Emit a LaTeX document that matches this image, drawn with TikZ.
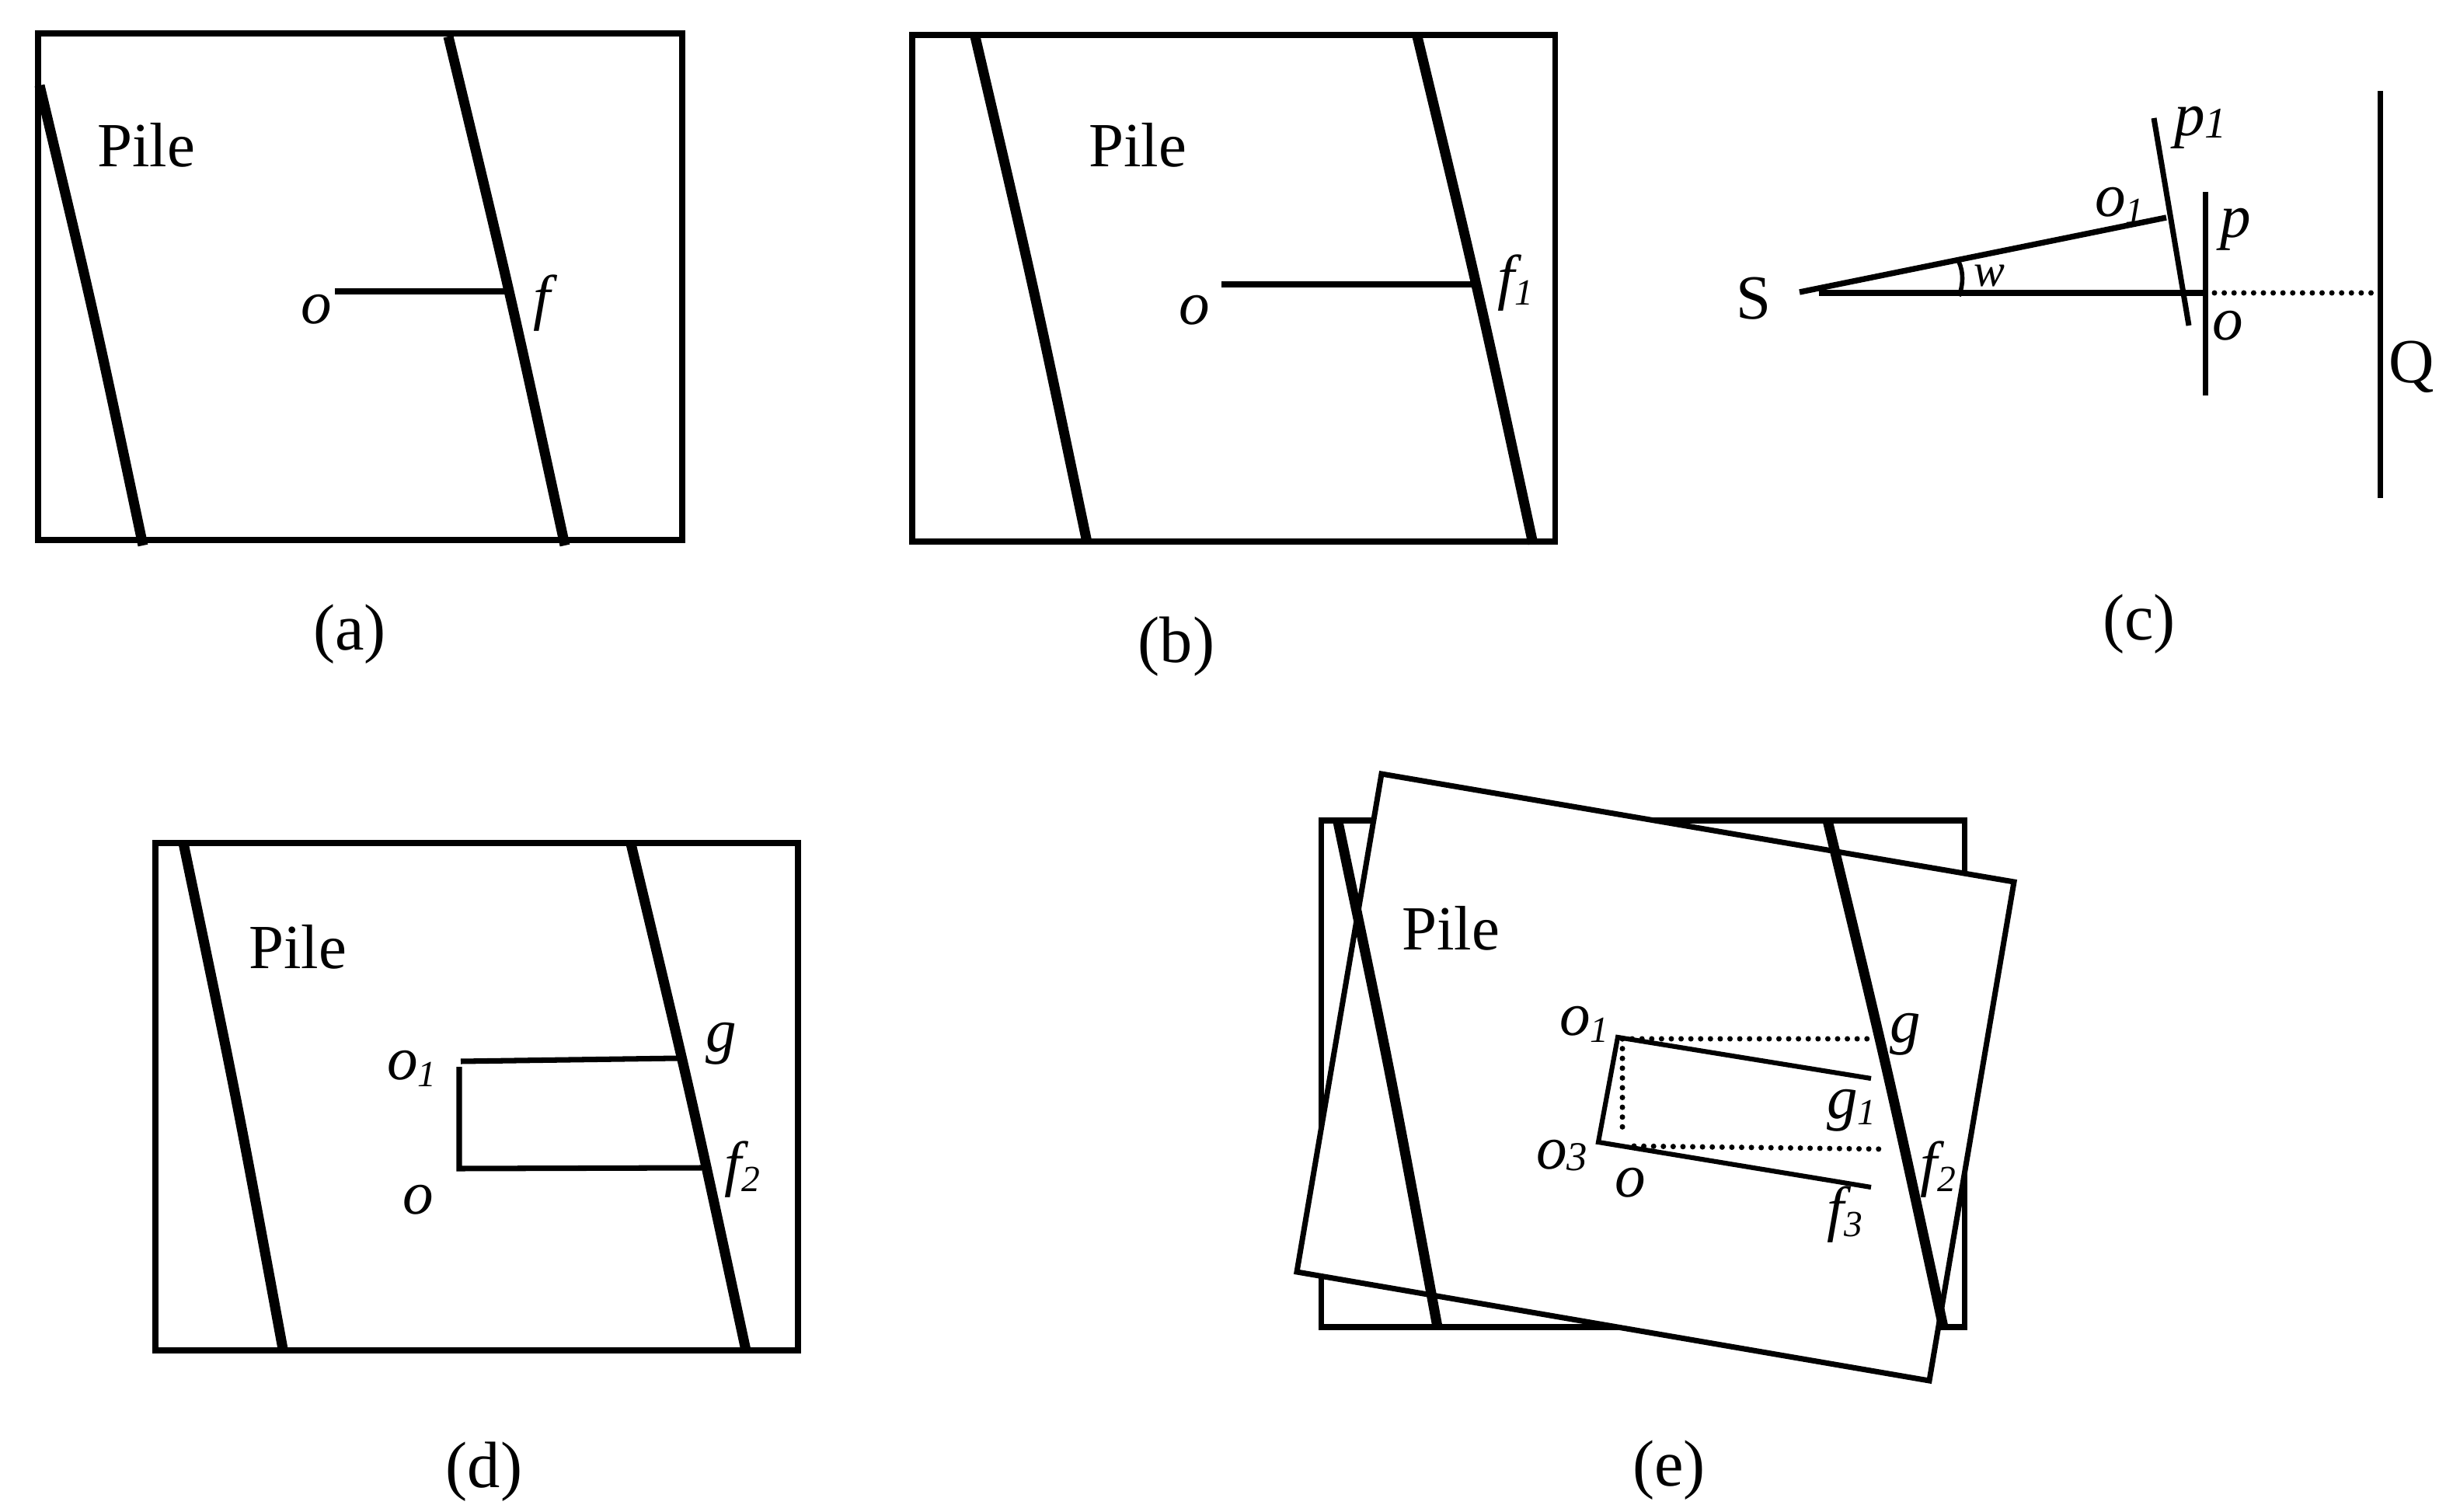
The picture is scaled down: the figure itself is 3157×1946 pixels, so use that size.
\documentclass[tikz,border=0pt]{standalone}
\usepackage{fontspec}
\setmainfont{Liberation Serif}
\usetikzlibrary{calc}
\newcommand{\pilesize}{\fontsize{23}{26}\selectfont}
\newcommand{\capsize}{\fontsize{24}{27}\selectfont}
\newcommand{\labsize}{\fontsize{22.5}{25}\selectfont\itshape}
\newcommand{\subl}[2]{#1\raisebox{-2.5pt}{\fontsize{13.5}{15}\selectfont #2}}
\newcommand{\thickcurve}[2]{\draw[thickln] (#1) .. controls ($(#1)!.5!(#2)+(4,0)$) .. (#2);}
\tikzset{
  x=0.01cm,y=-0.01cm,
  thinln/.style={line width=2pt,black},
  thickln/.style={line width=3.7pt,black},
  dotln/.style={line width=2pt,line cap=round,dash pattern=on 0pt off 3.58pt,black},
  pile/.style={inner sep=0pt,font=\pilesize},
  capt/.style={inner sep=0pt,font=\capsize},
  lab/.style={inner sep=0pt,font=\labsize},
  upper/.style={inner sep=0pt,font=\pilesize}
}
\begin{document}
\begin{tikzpicture}
\useasboundingbox (0,0) rectangle (3157,1946);
% (a)
\draw[thinln] (49,43) rectangle (878,695);
\thickcurve{51,110}{184,702}
\thickcurve{577,47}{727,702}
\draw[thinln] (431,375) -- (652,375);
\node[pile] (pa) at (188,187) {Pile};
\node[lab] (oa) at (407,398) {o};
\node[lab] (fa) at (697,390) {f};
\node[capt] (ca) at (450,816) {(a)};
% (b)
\draw[thinln] (1174,45) rectangle (2001,697);
\thickcurve{1255,47}{1399,698}
\thickcurve{1824,47}{1973,700}
\draw[thinln] (1572,366) -- (1898,366);
\node[pile] (pb) at (1464,187) {Pile};
\node[lab] (ob) at (1537,399) {o};
\node[lab] (fb) at (1950,364) {\subl{f}{1}};
\node[capt] (cb) at (1514,832) {(b)};
% (c)
\draw[thinln] (2341,377) -- (2838,377);
\draw[thinln,line width=2.1pt] (2316,376) -- (2788,280);
\draw[thinln] (2772,152) -- (2817,419);
\draw[thinln] (2838,247) -- (2838,509);
\draw[thinln] (3063,117) -- (3063,641);
\draw[dotln] (2850,377) -- (3053,377);
\draw[line width=1.6pt] (2521,337) .. controls (2527,350) and (2527,366) .. (2521,381);
\node[upper] (s) at (2257,384) {S};
\node[lab,font=\fontsize{17}{20}\selectfont\itshape] (w) at (2560,355) {w};
\node[lab] (p1) at (2832,164) {p\raisebox{-0.8pt}{\fontsize{16}{18}\selectfont 1}};
\node[lab] (o1c) at (2728,264) {\subl{o}{1}};
\node[lab] (p) at (2877,295) {p};
\node[lab] (oc) at (2867,419) {o};
\node[upper] (q) at (3104,472) {Q};
\node[capt] (cc) at (2753,803) {(c)};
% (d)
\draw[thinln] (200,1085) rectangle (1027,1738);
\thickcurve{236,1085}{364,1736}
\thickcurve{812,1086}{960,1738}
\draw[thinln] (593,1366) -- (872,1362);
\draw[thinln] (591,1373) -- (591,1504) -- (903,1503);
\node[pile] (pd) at (383,1219) {Pile};
\node[lab] (o1d) at (530,1375) {\subl{o}{1}};
\node[lab] (od) at (538,1544) {o};
\node[lab] (gd) at (928,1343) {g};
\node[lab] (f2d) at (955,1505) {\subl{f}{2}};
\node[capt] (cd) at (623,1894) {(d)};
% (e)
\draw[thinln] (1700,1056) rectangle (2528,1708);
\draw[thinln,fill=white] (1778,996) -- (2592,1135) -- (2483,1777) -- (1669,1637) -- cycle;
\thickcurve{1722,1058}{1850,1708}
\thickcurve{2352,1056}{2501,1708}
\draw[thinln,line width=1.75pt] (2408,1388) -- (2082,1335) -- (2057,1470) -- (2408,1528);
\draw[dotln] (2088,1337) -- (2408,1337);
\draw[dotln] (2088,1337) -- (2088,1462);
\draw[dotln] (2103,1475) -- (2430,1479);
\node[pile] (pe) at (1867,1195) {Pile};
\node[lab] (o1e) at (2039,1318) {\subl{o}{1}};
\node[lab] (ge) at (2452,1331) {g};
\node[lab] (g1e) at (2383,1429) {\subl{g}{1}};
\node[lab] (o3e) at (2010,1487) {o\raisebox{-0.5pt}{\fontsize{15}{17}\selectfont 3}};
\node[lab] (oe) at (2098,1522) {o};
\node[lab] (f2e) at (2494,1505) {\subl{f}{2}};
\node[lab] (f3e) at (2374,1563) {\subl{f}{3}};
\node[capt] (ce) at (2148,1892) {(e)};
\end{tikzpicture}
\end{document}
